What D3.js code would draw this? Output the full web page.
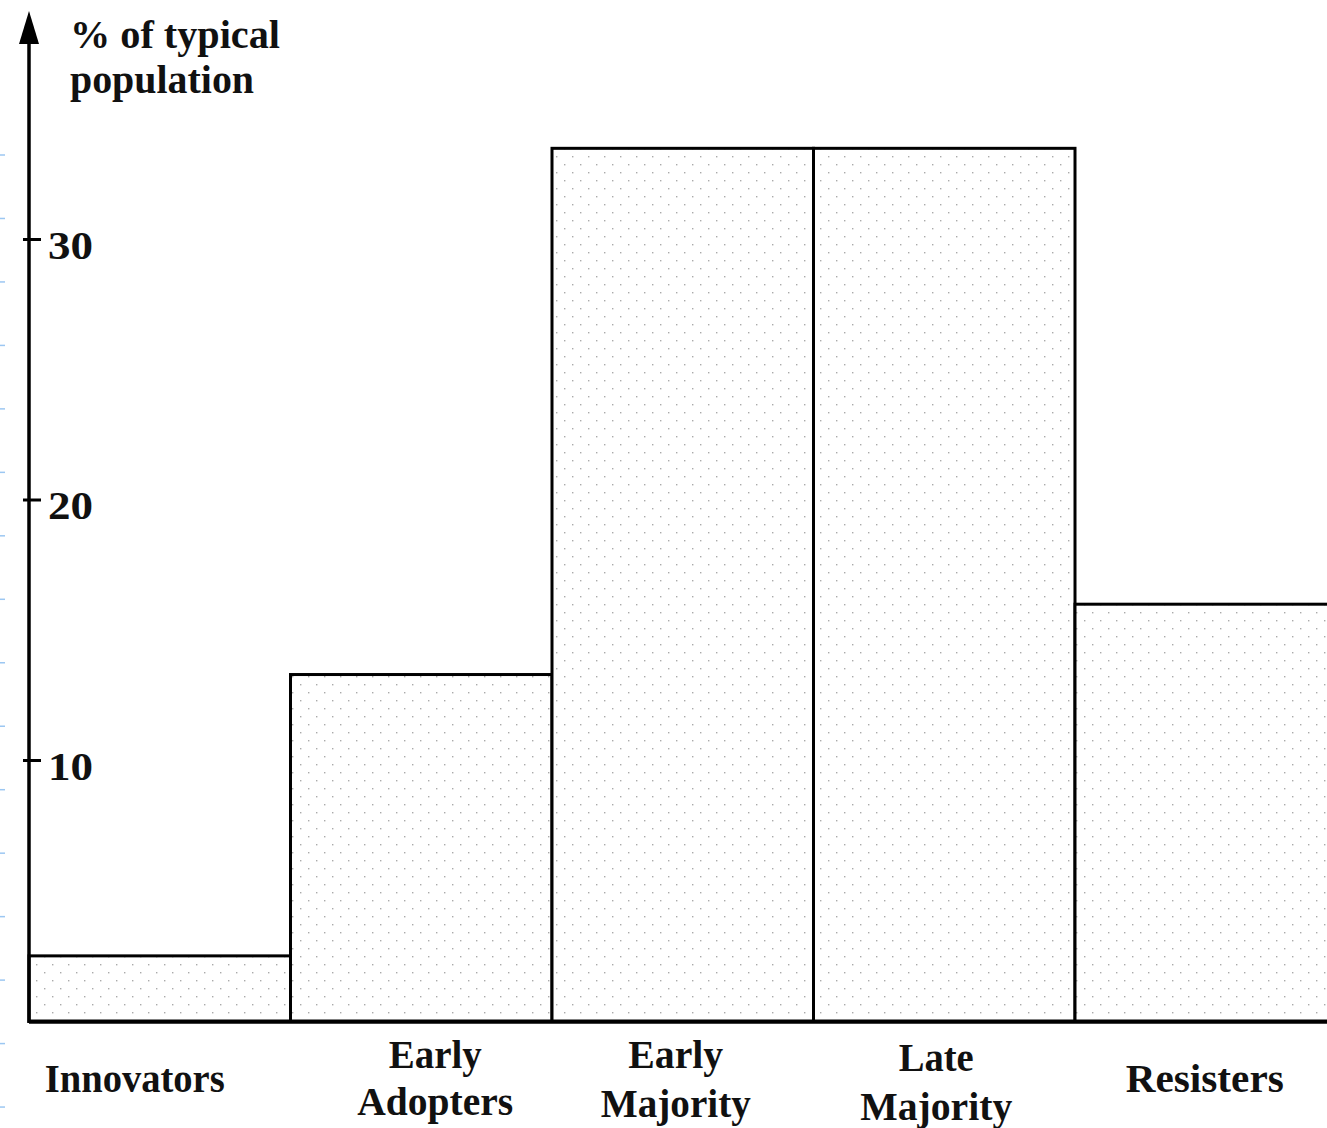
<!DOCTYPE html>
<html>
<head>
<meta charset="utf-8">
<script src="https://cdn.jsdelivr.net/npm/d3@7/dist/d3.min.js"></script>
<style>
  html, body { margin: 0; padding: 0; background: #fff; }
  svg { display: block; }
  text { font-family: "Liberation Serif", "DejaVu Serif", serif; font-weight: bold; fill: #111; }
</style>
</head>
<body>
<svg id="chart" width="1327" height="1128"></svg>
<script>
// ---- data ----
const categories = ["Innovators", "Early Adopters", "Early Majority", "Late Majority", "Resisters"];
const categoryLines = [["Innovators"], ["Early", "Adopters"], ["Early", "Majority"], ["Late", "Majority"], ["Resisters"]];
const values = [2.5, 13.3, 33.5, 33.5, 16];
const yTicks = [10, 20, 30];
const yTitleLines = ["% of typical", "population"];

// ---- layout ----
const W = 1327, H = 1128;
const x0 = 29, step = 261.5;
const baseY = 1021;
const svg = d3.select("#chart");

const defs = svg.append("defs");
const pat = defs.append("pattern").attr("id", "dots")
  .attr("patternUnits", "userSpaceOnUse").attr("width", 16).attr("height", 16);
pat.append("rect").attr("width", 16).attr("height", 16).attr("fill", "#fff");
pat.append("rect").attr("x", 4).attr("y", 4).attr("width", 1.4).attr("height", 1.4).attr("fill", "#aaaaaa");
pat.append("rect").attr("x", 12).attr("y", 12).attr("width", 1.4).attr("height", 1.4).attr("fill", "#aaaaaa");

const x = d3.scaleBand().domain(categories).range([x0, x0 + step * categories.length]).paddingInner(0).paddingOuter(0);
const y = d3.scaleLinear().domain([0, 30]).range([baseY, 239.5]);

// decorative blue margin marks (from the source page)
svg.append("g").selectAll("line").data(d3.range(16)).join("line")
  .attr("x1", 0).attr("x2", 5)
  .attr("y1", i => 155 + i * 63.47).attr("y2", i => 155 + i * 63.47)
  .attr("stroke", "#9cc7f2").attr("stroke-width", 1.5);

// bars
svg.append("g").selectAll("rect").data(categories).join("rect")
  .attr("x", d => x(d))
  .attr("y", (d, i) => y(values[i]))
  .attr("width", x.bandwidth())
  .attr("height", (d, i) => baseY - y(values[i]))
  .attr("fill", "url(#dots)")
  .attr("stroke", "#000").attr("stroke-width", 3);

// baseline
svg.append("line").attr("x1", x0).attr("x2", W).attr("y1", baseY + 1).attr("y2", baseY + 1)
  .attr("stroke", "#000").attr("stroke-width", 3.5);

// y axis with arrow
svg.append("line").attr("x1", x0).attr("x2", x0).attr("y1", 38).attr("y2", baseY + 2)
  .attr("stroke", "#000").attr("stroke-width", 3.5);
svg.append("path").attr("d", `M${x0},11 L${x0 - 10},44 L${x0 + 10},44 Z`).attr("fill", "#000");

// ticks
const tg = svg.append("g").selectAll("g").data(yTicks).join("g")
  .attr("transform", d => `translate(0,${y(d)})`);
tg.append("line").attr("x1", x0 - 6).attr("x2", x0 + 12).attr("stroke", "#000").attr("stroke-width", 3);
tg.append("text").attr("x", 48).attr("y", 19).attr("font-size", 40)
  .attr("textLength", 45).attr("lengthAdjust", "spacingAndGlyphs")
  .text(d => d);

// y title
const titleY = [48, 93];
const titleW = [210, 184];
svg.append("g").selectAll("text").data(yTitleLines).join("text")
  .attr("x", 70).attr("y", (d, i) => titleY[i]).attr("font-size", 40)
  .attr("textLength", (d, i) => titleW[i]).attr("lengthAdjust", "spacingAndGlyphs")
  .text(d => d);

// category labels
const labelDx = [-25, 14, -7, -8, -1];
const labelBase = [[1092], [1068, 1115], [1068, 1117], [1071, 1120], [1092]];
const labelW = [[180], [93, 156], [95, 150], [75, 152], [158]];
categories.forEach((c, i) => {
  const cx = x(c) + x.bandwidth() / 2 + labelDx[i];
  categoryLines[i].forEach((line, j) => {
    svg.append("text").attr("x", cx).attr("y", labelBase[i][j])
      .attr("text-anchor", "middle").attr("font-size", 40)
      .attr("textLength", labelW[i][j]).attr("lengthAdjust", "spacingAndGlyphs")
      .text(line);
  });
});
</script>
</body>
</html>
